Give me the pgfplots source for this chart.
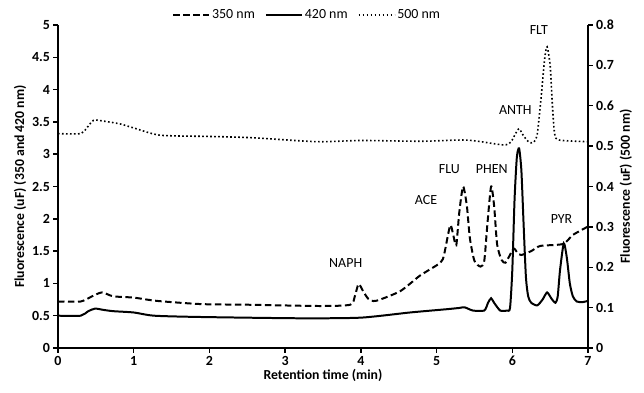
\documentclass[border=0pt]{standalone}
\usepackage{pgfplots}
\pgfplotsset{compat=1.18}
\usepackage{fontspec}
\setmainfont{Carlito}
\begin{document}
\begin{tikzpicture}
\pgfplotsset{every axis/.append style={
  scale only axis, width=530bp, height=323bp, xmin=0, xmax=7,
  font=\fontsize{14}{16}\selectfont,
  tick align=outside, major tick length=4.5bp,
  axis line style={line width=1.8pt},
  every tick/.style={line width=1.5pt, black},
  /pgf/number format/assume math mode=true,
  ticklabel style={font=\fontsize{14}{16}\selectfont\bfseries},
  label style={font=\fontsize{13.8}{16}\selectfont\bfseries},
}}
\begin{axis}[
  axis x line*=bottom, axis y line*=left,
  ymin=0, ymax=5, ytick={0,0.5,...,5}, xtick={0,...,7},
  yticklabels={0,0.5,1,1.5,2,2.5,3,3.5,4,4.5,5},
  xlabel={Retention time (min)},
  ylabel={Fluorescence (uF) (350 and 420 nm)},
  xlabel style={yshift=3bp},
  ylabel style={yshift=-1bp},
  legend style={at={(0.47,1.005)}, anchor=south, draw=none, legend columns=3,
    font=\fontsize{14}{16}\selectfont, inner sep=1bp,
    /tikz/every even column/.append style={column sep=8bp}},
  legend image code/.code={\draw[#1] (0bp,0bp) -- (36bp,0bp);},
]
\coordinate (sw) at (rel axis cs:0,0);
\coordinate (ne) at (rel axis cs:1,1);
\addplot[black, line width=2pt, dash pattern=on 6.5bp off 3.5bp, smooth, tension=0.4] coordinates {
(0,0.72) (0.3,0.72) (0.45,0.8) (0.58,0.86) (0.73,0.80) (1.0,0.78) (1.3,0.73) (1.88,0.68) (2.5,0.67) (3.46,0.65) (3.86,0.67) (3.92,0.80) (3.97,0.99) (4.03,0.88) (4.1,0.76) (4.2,0.73) (4.52,0.88) (4.78,1.12) (5.05,1.32) (5.1,1.45) (5.18,1.90) (5.22,1.75) (5.26,1.59) (5.3,2.1) (5.35,2.50) (5.4,2.2) (5.44,1.7) (5.5,1.35) (5.58,1.26) (5.63,1.35) (5.67,1.9) (5.72,2.50) (5.76,2.2) (5.8,1.6) (5.86,1.36) (5.91,1.32) (5.96,1.42) (6.02,1.54) (6.07,1.47) (6.12,1.44) (6.25,1.5) (6.37,1.58) (6.67,1.61) (6.8,1.75) (7,1.88)
};
\addlegendentry{350 nm}
\addplot[black, line width=2pt, smooth, tension=0.4] coordinates {
(0,0.5) (0.3,0.5) (0.4,0.57) (0.49,0.61) (0.6,0.59) (0.73,0.57) (1.0,0.55) (1.27,0.5) (1.88,0.48) (3.2,0.46) (4.0,0.47) (4.65,0.55) (5.13,0.6) (5.3,0.62) (5.37,0.63) (5.48,0.58) (5.63,0.58) (5.68,0.7) (5.72,0.77) (5.76,0.7) (5.84,0.58) (5.93,0.58) (5.97,0.62) (6.0,1.2) (6.03,2.3) (6.06,2.95) (6.09,3.09) (6.12,2.75) (6.15,1.9) (6.18,1.1) (6.21,0.8) (6.25,0.7) (6.33,0.66) (6.4,0.75) (6.46,0.86) (6.52,0.76) (6.57,0.7) (6.6,0.8) (6.63,1.2) (6.68,1.62) (6.72,1.4) (6.76,1.0) (6.8,0.8) (6.85,0.72) (6.93,0.71) (7,0.73)
};
\addlegendentry{420 nm}
\addlegendimage{black, line width=1.6pt, dash pattern=on 1.6bp off 2.4bp}
\addlegendentry{500 nm}
\node[font=\fontsize{14}{16}\selectfont] at (axis cs:3.80,1.31) {NAPH};
\node[font=\fontsize{14}{16}\selectfont] at (axis cs:4.86,2.29) {ACE};
\node[font=\fontsize{14}{16}\selectfont] at (axis cs:5.17,2.77) {FLU};
\node[font=\fontsize{14}{16}\selectfont] at (axis cs:5.73,2.77) {PHEN};
\node[font=\fontsize{14}{16}\selectfont] at (axis cs:6.65,2.0) {PYR};
\node[font=\fontsize{14}{16}\selectfont] at (axis cs:6.04,3.68) {ANTH};
\node[font=\fontsize{14}{16}\selectfont] at (axis cs:6.35,4.92) {FLT};
\end{axis}
\begin{axis}[
  axis x line=none, axis y line*=right,
  ymin=0, ymax=0.8, ytick={0,0.1,...,0.8},
  yticklabels={0,0.1,0.2,0.3,0.4,0.5,0.6,0.7,0.8},
  ylabel={Fluorescence (uF) (500 nm)},
  ylabel style={yshift=1bp},
]
\addplot[black, line width=1.6pt, dash pattern=on 1.6bp off 2.4bp, smooth, tension=0.4] coordinates {
(0,0.531) (0.3,0.531) (0.38,0.545) (0.47,0.564) (0.6,0.562) (0.82,0.555) (1.0,0.545) (1.35,0.527) (2.0,0.524) (2.54,0.521) (3.42,0.511) (4.0,0.514) (4.8,0.512) (5.4,0.515) (5.88,0.503) (5.98,0.51) (6.04,0.53) (6.09,0.543) (6.15,0.525) (6.22,0.51) (6.28,0.509) (6.33,0.53) (6.38,0.62) (6.43,0.72) (6.46,0.746) (6.5,0.7) (6.53,0.6) (6.56,0.53) (6.62,0.515) (7,0.511)
};
\end{axis}
\pgfresetboundingbox
\useasboundingbox ([shift={(-58bp,-45bp)}]sw) rectangle ([shift={(56bp,25bp)}]ne);
\end{tikzpicture}
\end{document}
